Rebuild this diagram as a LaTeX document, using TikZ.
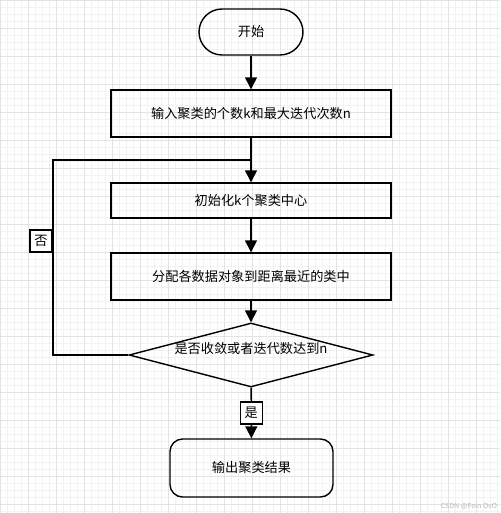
\documentclass[tikz,border=0pt]{standalone}
\usepackage{fontspec}
\setmainfont{Noto Sans CJK SC}
\usetikzlibrary{arrows.meta,shapes.geometric}

\begin{document}
\begin{tikzpicture}[x=0.02cm, y=-0.02cm,
  every node/.style={font=\fontsize{7.5pt}{9pt}\selectfont},
  startbox/.style={draw, line width=0.8pt, rounded corners=0.46cm, minimum width=2.08cm, minimum height=0.92cm},
  procbox/.style={draw, line width=0.8pt, minimum width=5.6cm, inner sep=0pt},
  endbox/.style={draw, line width=0.8pt, rounded corners=0.25cm, minimum width=3.26cm, minimum height=1.16cm},
  decision/.style={draw, diamond, line width=0.8pt, minimum width=4.88cm, minimum height=1.28cm, inner sep=0pt},
  tag/.style={draw, fill=white, line width=0.6pt, inner sep=1.5pt, minimum size=0.44cm},
  flow/.style={line width=0.8pt, -{Triangle[length=0.24cm, width=0.24cm]}}]
  \useasboundingbox (0,0) rectangle (500,513);
  \fill[white] (0,0) rectangle (500,513);
  \draw[gray!10, line width=0.3pt, step=0.14cm] (0,0) grid (500,513);
  \draw[gray!22, line width=0.3pt, step=0.56cm] (0,0) grid (500,513);

  \node[startbox] (start) at (251,32) {开始};
  \node[procbox, minimum height=0.94cm] (input) at (251,113.5) {输入聚类的个数k和最大迭代次数n};
  \node[procbox, minimum height=0.7cm] (init) at (251,200.5) {初始化k个聚类中心};
  \node[procbox, minimum height=0.94cm] (assign) at (251,276.5) {分配各数据对象到距离最近的类中};
  \node[decision] (check) at (251,355) {};
  \node at (251,348) {是否收敛或者迭代数达到n};
  \node[endbox] (output) at (251.5,468) {输出聚类结果};

  \coordinate (back) at (53,160);
  \coordinate (merge) at (251,160);

  \draw[flow] (start) -- (input);
  \draw[flow] (input) -- (init);
  \draw[flow] (init) -- (assign);
  \draw[flow] (assign) -- (check);
  \draw[flow] (check) -- node[tag] {是} (output);
  \draw[line width=0.8pt] (check.west) -| (back) -- (merge);
  \node[tag] (no) at (41,241) {否};

  \node[gray!55, font=\fontsize{4pt}{5pt}\selectfont] (mark) at (469,506) {CSDN @Fein OvO};
\end{tikzpicture}
\end{document}
